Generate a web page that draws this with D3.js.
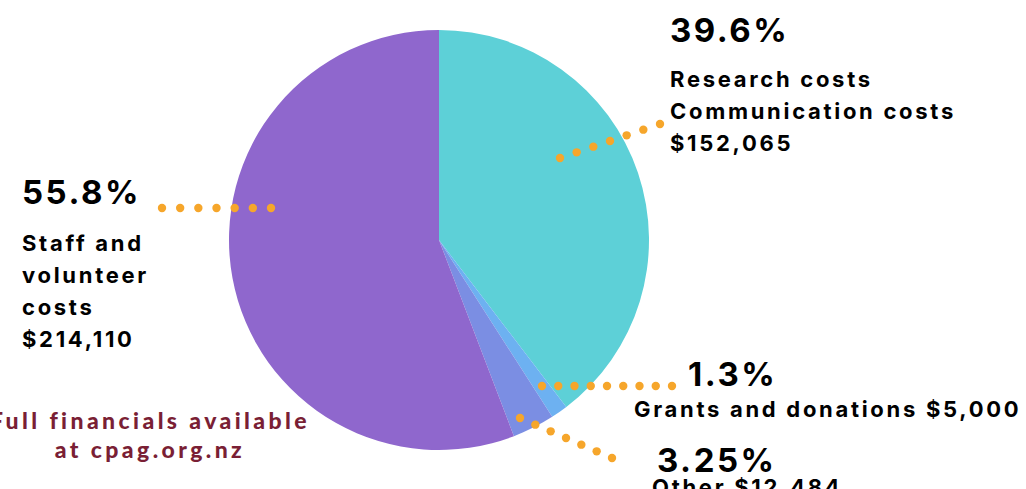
<!DOCTYPE html>
<html>
<head>
<meta charset="utf-8">
<script src="https://cdn.jsdelivr.net/npm/d3@7"></script>
<style>
  body { margin: 0; background: #fff; }
  svg { display: block; }
  .pct { font-family: Inter, sans-serif; font-weight: 700; font-size: 33px; letter-spacing: 2.5px; fill: #000; }
  .lbl { font-family: Inter, sans-serif; font-weight: 700; font-size: 22px; letter-spacing: 2.7px; fill: #000; }
  .foot { font-family: Lato, sans-serif; font-weight: 900; font-size: 23px; letter-spacing: 3.4px; fill: #7a1f35; }
</style>
</head>
<body>
<script>
// data
var categories = ['Research costs Communication costs', 'Grants and donations', 'Other', 'Staff and volunteer costs'];
var amounts = [152065, 5000, 12484, 214110];
var percents = ['39.6%', '1.3%', '3.25%', '55.8%'];
var colors = ['#5dd0d7', '#6db1f1', '#7b8ee3', '#8f67cd'];

var w = 1026,
    h = 489;

var svg = d3.select('body')
            .append('svg')
            .attr('width', w)
            .attr('height', h);

var cx = 439, cy = 240, r = 210;

var pie = d3.pie().sort(null).value(function(d) { return d; });
var arc = d3.arc().innerRadius(0).outerRadius(r);

svg.append('g')
   .attr('transform', 'translate(' + cx + ',' + cy + ')')
   .selectAll('path')
   .data(pie(amounts))
   .enter()
   .append('path')
   .attr('d', arc)
   .style('fill', function(d, i) { return colors[i]; });

// dotted leaders: start point, end point, number of dots
var leaders = [
  [[560, 158], [660, 124], 7],
  [[542, 386], [672, 386], 9],
  [[520, 418], [612, 458], 7],
  [[162, 208], [271, 208], 7]
];

leaders.forEach(function(l) {
  var pts = d3.range(l[2]).map(function(k) {
    var t = k / (l[2] - 1);
    return [l[0][0] + t * (l[1][0] - l[0][0]), l[0][1] + t * (l[1][1] - l[0][1])];
  });
  svg.selectAll(null)
     .data(pts)
     .enter()
     .append('circle')
     .attr('cx', function(d) { return d[0]; })
     .attr('cy', function(d) { return d[1]; })
     .attr('r', 4.2)
     .style('fill', '#f6a62b');
});

// label blocks: x, percent baseline, label line baselines
var blocks = [
  { x: 670, py: 42, lx: 670, lines: ['Research costs', 'Communication costs', '$' + d3.format(',')(amounts[0])], ly: 87, lh: 32 },
  { x: 688, py: 386, lx: 634, lines: [categories[1] + ' $' + d3.format(',')(amounts[1])], ly: 417, lh: 32 },
  { x: 657, py: 472, lx: 652, lines: [categories[2] + ' $' + d3.format(',')(amounts[2])], ly: 495, lh: 32 },
  { x: 22, py: 204, lx: 22, lines: ['Staff and', 'volunteer', 'costs', '$' + d3.format(',')(amounts[3])], ly: 251, lh: 32 }
];

blocks.forEach(function(b, i) {
  b.lines.forEach(function(t, j) {
    svg.append('text')
       .attr('class', 'lbl')
       .attr('x', b.lx)
       .attr('y', b.ly + j * b.lh)
       .text(t);
  });
  svg.append('text')
     .attr('class', 'pct')
     .attr('x', b.x)
     .attr('y', b.py)
     .text(percents[i]);
});

// footer note
var footer = ['Full financials available', 'at cpag.org.nz'];
svg.selectAll('.foot')
   .data(footer)
   .enter()
   .append('text')
   .attr('class', 'foot')
   .attr('x', 150)
   .attr('y', function(d, i) { return 429 + i * 29; })
   .attr('text-anchor', 'middle')
   .text(function(d) { return d; });
</script>
</body>
</html>
